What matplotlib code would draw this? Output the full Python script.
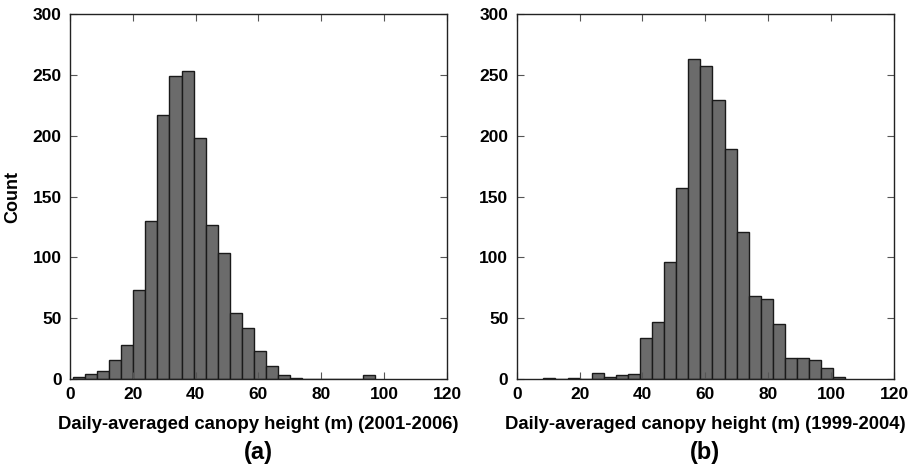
"""
Histograms of daily-averaged canopy height for two sites
"""

import numpy as np
import matplotlib
matplotlib.use('Agg')
import matplotlib.pyplot as plt

plt.rcParams['font.family'] = ['Liberation Sans', 'DejaVu Sans']
plt.rcParams['font.weight'] = 'bold'

# panel (a): 2001-2006, 25 bins
a_start = 0.85
a_width = 3.85
a_counts = [2, 4, 7, 16, 28, 73, 130, 217, 249, 253, 198, 127, 104,
            54, 42, 23, 11, 3, 1, 0, 0, 0, 0, 0, 3]

# panel (b): 1999-2004, 25 bins
b_start = 8.5
b_width = 3.84
b_counts = [1, 0, 1, 0, 5, 2, 3, 4, 34, 47, 96, 157, 263, 257, 229,
            189, 121, 68, 66, 45, 17, 17, 16, 9, 2]

xlabels = ['Daily-averaged canopy height (m) (2001-2006)',
           'Daily-averaged canopy height (m) (1999-2004)']
panel_tags = ['(a)', '(b)']
xticks = [0, 20, 40, 60, 80, 100, 120]
yticks = [0, 50, 100, 150, 200, 250, 300]

fig = plt.figure(figsize=(9.22, 4.68), dpi=100)
ax1 = fig.add_axes([0.0759, 0.190, 0.4089, 0.780])
ax2 = fig.add_axes([0.5604, 0.190, 0.4092, 0.780])

panels = [(ax1, a_start, a_width, a_counts),
          (ax2, b_start, b_width, b_counts)]

for i, (ax, start, width, counts) in enumerate(panels):
    edges = start + width * np.arange(len(counts))
    ax.bar(edges, counts, width=width, align='edge',
           color='#6b6b6b', edgecolor='#1a1a1a', linewidth=1.0)
    ax.set_xlim(0, 120)
    ax.set_ylim(0, 300)
    ax.set_xticks(xticks)
    ax.set_yticks(yticks)
    ax.tick_params(direction='in', length=5, width=0.8, top=True, right=True,
                   labelsize=12.5, pad=6, color='#555555')
    for lab in ax.get_xticklabels() + ax.get_yticklabels():
        lab.set_fontweight('bold')
    for sp in ax.spines.values():
        sp.set_color('#222222')
        sp.set_linewidth(1.0)
    ax.set_xlabel(xlabels[i], fontsize=13.3, fontweight='bold', labelpad=10)
    pos = ax.get_position()
    fig.text((pos.x0 + pos.x1) / 2, 0.034, panel_tags[i], fontsize=17,
             fontweight='bold', ha='center', va='center')

ax1.set_ylabel('Count', fontsize=13, fontweight='bold', labelpad=8)

plt.savefig('out.png', dpi=100)
plt.close()
